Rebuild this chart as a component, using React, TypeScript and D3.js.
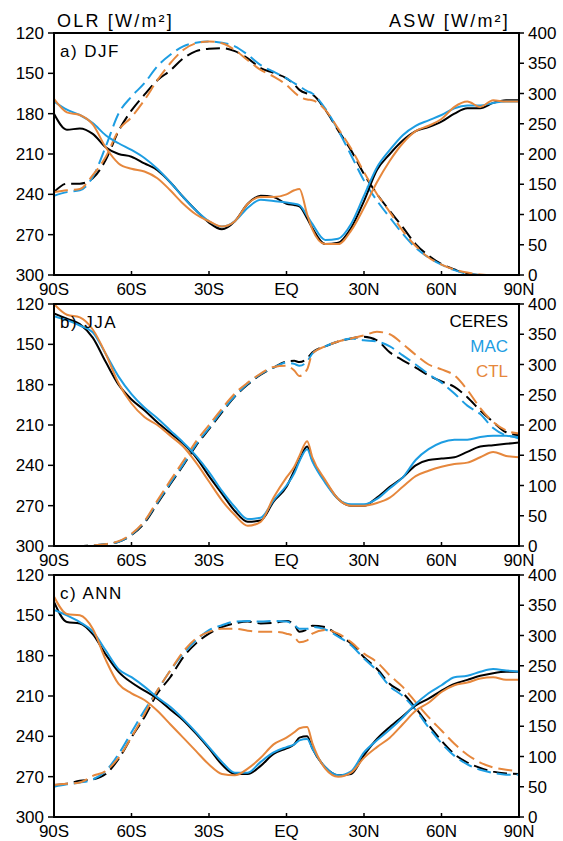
import React from 'react';
import * as d3 from 'd3';

// Latitude grid (degrees, negative = south)
const LAT = [-90,-85,-80,-75,-70,-65,-60,-55,-50,-45,-40,-35,-30,-25,-20,-15,-10,-5,0,3,5,8,10,15,20,25,30,35,40,45,50,55,60,65,70,75,80,85,90];

// ---- DJF ----
const DJF_OLR_CERES = [180,192,191,195,205,210,212,217,222,231,242,252,261,266,260,247,241,242,247,248,249,258,265,277,276,265,245,222,210,200,193,190,186,180,176,176,172,170,170];
const DJF_OLR_MAC   = [171,177,181,187,196,202,207,213,221,231,242,252,260,264,260,250,244,245,246,247,248,256,262,274,273,262,241,220,207,196,189,185,181,176,174,174,172,171,171];
const DJF_OLR_CTL   = [169,179,181,188,205,217,221,223,228,237,247,255,260,264,260,247,242,242,240,237,236,255,266,277,277,267,250,231,215,202,193,189,184,175,171,175,170,171,171];
const DJF_ASW_CERES = [137,151,151,160,190,238,272,298,322,338,358,370,374,375,370,358,342,334,325,315,306,300,298,273,239,206,167,134,106,79,51,32,18,9,2,0,0,0,0];
const DJF_ASW_MAC   = [131,137,140,162,212,267,295,317,345,364,378,384,386,384,378,364,347,336,325,317,312,304,300,275,239,198,156,123,95,68,45,29,17,8,2,0,0,0,0];
const DJF_ASW_CTL   = [137,140,142,165,195,239,261,289,322,350,372,383,386,383,372,355,339,328,314,302,295,290,289,273,242,209,170,134,104,73,48,29,17,9,4,1,0,0,0];

// ---- JJA ----
const JJA_OLR_CERES = [127,131,135,145,163,180,191,199,208,216,224,234,248,261,274,282,281,267,256,244,236,226,236,252,265,270,270,264,256,249,240,236,235,234,230,226,225,224,223];
const JJA_OLR_MAC   = [129,132,136,141,157,174,187,197,205,214,223,233,245,259,271,280,279,266,255,246,237,228,237,253,265,269,269,265,257,249,236,228,223,221,221,219,218,218,220];
const JJA_OLR_CTL   = [120,128,130,139,157,179,194,204,210,218,226,238,252,266,277,285,282,264,249,241,233,222,234,251,265,270,270,268,264,256,248,244,241,239,238,234,230,233,234];
const JJA_ASW_CERES = [0,0,0,1,3,7,18,38,70,102,133,166,193,221,247,267,283,295,305,306,304,310,320,330,338,343,346,340,320,307,295,282,272,263,246,224,205,188,183];
const JJA_ASW_MAC   = [0,0,0,1,3,7,19,40,72,104,135,168,195,223,248,268,284,295,303,301,298,305,318,330,338,343,340,338,330,315,300,284,270,252,232,218,195,183,180];
const JJA_ASW_CTL   = [0,0,0,1,3,8,20,41,75,108,140,173,200,227,252,270,285,296,298,290,281,292,318,330,338,343,348,354,350,334,316,300,292,282,258,228,205,191,186];

// ---- ANN ----
const ANN_OLR_CERES = [140,155,156,164,179,192,200,206,212,220,228,238,249,261,268,268,262,253,249,246,241,240,249,263,269,268,254,242,233,225,217,212,206,201,198,195,193,192,192];
const ANN_OLR_MAC   = [146,150,155,162,176,190,196,203,211,218,227,237,248,259,267,267,259,252,248,246,243,242,249,263,269,266,252,243,235,226,216,208,202,196,195,192,190,191,192];
const ANN_OLR_CTL   = [136,149,150,160,183,201,208,213,221,231,241,251,261,268,269,264,256,246,241,237,234,233,245,264,270,267,256,248,241,231,221,215,207,202,200,197,196,198,198];
const ANN_ASW_CERES = [53,55,60,62,71,96,132,165,204,231,264,287,303,314,320,323,320,321,324,318,306,310,316,314,300,287,264,245,220,205,180,152,126,104,90,81,75,72,71];
const ANN_ASW_MAC   = [50,54,57,62,76,104,140,176,209,242,270,292,309,317,323,324,323,324,323,317,311,311,314,310,298,284,262,242,216,200,177,148,122,101,87,78,73,70,70];
const ANN_ASW_CTL   = [53,55,57,68,76,98,132,170,209,242,273,295,306,311,311,308,306,306,303,298,289,292,303,309,303,289,270,256,234,215,190,165,143,121,103,90,82,78,76];

const X_TICKS = [-90, -60, -30, 0, 30, 60, 90];
const X_TICK_LABELS = ['90S', '60S', '30S', 'EQ', '30N', '60N', '90N'];
const OLR_TICKS = [120, 150, 180, 210, 240, 270, 300];
const ASW_TICKS = [0, 50, 100, 150, 200, 250, 300, 350, 400];
const SERIES_NAMES = ['CERES', 'MAC', 'CTL'];
const COLORS = ['#000000', '#1d9de2', '#e6873c'];

const PANELS = [
  { label: 'a) DJF', olr: [DJF_OLR_CERES, DJF_OLR_MAC, DJF_OLR_CTL], asw: [DJF_ASW_CERES, DJF_ASW_MAC, DJF_ASW_CTL], legend: false },
  { label: 'b) JJA', olr: [JJA_OLR_CERES, JJA_OLR_MAC, JJA_OLR_CTL], asw: [JJA_ASW_CERES, JJA_ASW_MAC, JJA_ASW_CTL], legend: true },
  { label: 'c) ANN', olr: [ANN_OLR_CERES, ANN_OLR_MAC, ANN_OLR_CTL], asw: [ANN_ASW_CERES, ANN_ASW_MAC, ANN_ASW_CTL], legend: false },
];

const W = 563, H = 841;
const X0 = 54, X1 = 519;
const TOPS = [33, 304, 575];
const PH = 242;
const FONT = 'Liberation Sans, Arial, sans-serif';

function Panel({ p, top, idx }: any) {
  const x = d3.scaleLinear().domain([-90, 90]).range([X0, X1]);
  const yOlr = d3.scaleLinear().domain([120, 300]).range([top, top + PH]);
  const yAsw = d3.scaleLinear().domain([0, 400]).range([top + PH, top]);
  const lineOlr = d3.line<number>().x((_, i) => x(LAT[i])).y(d => yOlr(d)).curve(d3.curveMonotoneX);
  const lineAsw = d3.line<number>().x((_, i) => x(LAT[i])).y(d => yAsw(d)).curve(d3.curveMonotoneX);
  const clipId = `clip${idx}`;
  const bottom = top + PH;
  return (
    <g>
      <defs>
        <clipPath id={clipId}>
          <rect x={X0} y={top} width={X1 - X0} height={PH} />
        </clipPath>
      </defs>
      <g clipPath={`url(#${clipId})`}>
        {p.asw.map((s: number[], i: number) => (
          <path key={'a' + i} d={lineAsw(s) || ''} fill="none" stroke={COLORS[i]} strokeWidth={2} strokeDasharray="14 6" />
        ))}
        {p.olr.map((s: number[], i: number) => (
          <path key={'o' + i} d={lineOlr(s) || ''} fill="none" stroke={COLORS[i]} strokeWidth={2} />
        ))}
      </g>
      <rect x={X0} y={top} width={X1 - X0} height={PH} fill="none" stroke="#000" strokeWidth={2} />
      {OLR_TICKS.map(t => (
        <g key={'yl' + t}>
          <line x1={X0 - 6} x2={X0} y1={yOlr(t)} y2={yOlr(t)} stroke="#000" strokeWidth={1.5} />
          <text x={X0 - 10} y={yOlr(t)} dy="0.36em" textAnchor="end" fontSize={17} fontFamily={FONT}>{t}</text>
        </g>
      ))}
      {ASW_TICKS.map(t => (
        <g key={'yr' + t}>
          <line x1={X1} x2={X1 + 5} y1={yAsw(t)} y2={yAsw(t)} stroke="#000" strokeWidth={1.5} />
          <text x={X1 + 9} y={yAsw(t)} dy="0.36em" textAnchor="start" fontSize={17} fontFamily={FONT}>{t}</text>
        </g>
      ))}
      {X_TICKS.map((t, i) => (
        <g key={'x' + t}>
          <line x1={x(t)} x2={x(t)} y1={bottom} y2={bottom - 4} stroke="#000" strokeWidth={1.5} />
          <text x={x(t)} y={bottom + 20} textAnchor="middle" fontSize={17} fontFamily={FONT}>{X_TICK_LABELS[i]}</text>
        </g>
      ))}
      <text x={X0 + 6} y={top + 24} fontSize={17} fontFamily={FONT} letterSpacing={1.5}>{p.label}</text>
      {p.legend && SERIES_NAMES.map((n, i) => (
        <text key={n} x={X1 - 11} y={top + 23 + i * 25} textAnchor="end" fontSize={17} fontFamily={FONT} fill={COLORS[i]}>{n}</text>
      ))}
    </g>
  );
}

export default function App() {
  return (
    <svg width={W} height={H} style={{ position: 'absolute', left: 0, top: 0, background: '#fff' }}>
      <rect x={0} y={0} width={W} height={H} fill="#fff" />
      <text x={57} y={27} fontSize={18} fontFamily={FONT} letterSpacing={2.2}>OLR [W/m²]</text>
      <text x={510} y={27} fontSize={18} fontFamily={FONT} letterSpacing={2.2} textAnchor="end">ASW [W/m²]</text>
      {PANELS.map((p, i) => (
        <Panel key={i} p={p} top={TOPS[i]} idx={i} />
      ))}
    </svg>
  );
}
